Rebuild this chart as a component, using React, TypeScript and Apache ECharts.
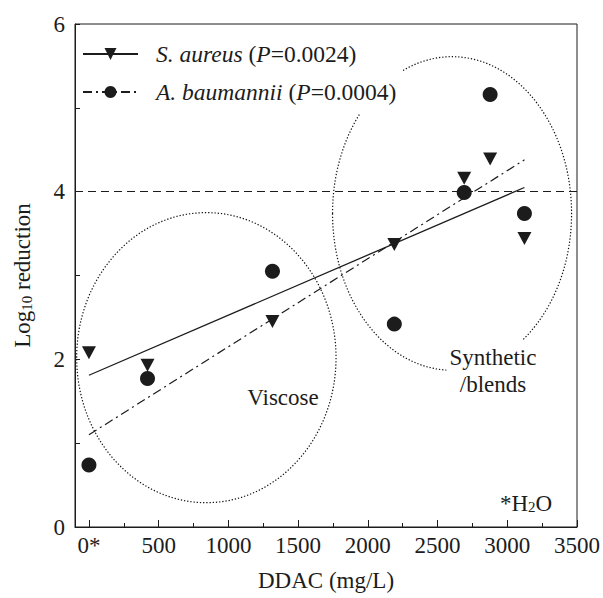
import React, { useEffect, useRef } from "react";
import * as echarts from "echarts";

// ---- data ----
const ddacX = [0, 420, 1316, 2190, 2691, 2877, 3123];
const sAureusY = [2.08, 1.93, 2.45, 3.37, 4.16, 4.39, 3.44];
const aBaumanniiY = [0.74, 1.77, 3.05, 2.42, 3.99, 5.16, 3.74];
// regression line endpoints
const sAureusFit = [
  [0, 1.81],
  [3123, 4.05],
];
const aBaumanniiFit = [
  [0, 1.1],
  [3123, 4.38],
];
const threshold = 4;
// ellipses: [centerX, centerY, radiusX, radiusY] in data units
const groupEllipses = [
  [842, 2.02, 930, 1.73],
  [2604, 3.74, 857, 1.87],
];
const xMajorTicks = [0, 500, 1000, 1500, 2000, 2500, 3000, 3500];
const xMinorTicks = [250, 750, 1250, 1750, 2250, 2750, 3250];
const seriesNames = ["S. aureus", "A. baumannii"];
const pValues = ["0.0024", "0.0004"];

const FONT = "Liberation Serif, Times New Roman, serif";
const INK = "#1c1c1c";
const TRI = "path://M0,0 L14,0 L7,13 Z";
const FS = 23;

export default function App() {
  const ref = useRef<HTMLDivElement>(null);

  useEffect(() => {
    if (!ref.current) return;
    const chart = echarts.init(ref.current, null, { renderer: "svg" });

    const pts = (ys: number[]) => ddacX.map((x, i) => [x, ys[i]]);

    const option: any = {
      animation: false,
      backgroundColor: "#fff",
      textStyle: { fontFamily: FONT, color: INK },
      grid: {
        left: 75,
        top: 24,
        right: 26,
        bottom: 71,
        show: true,
        borderColor: INK,
        borderWidth: 1,
        backgroundColor: "transparent",
      },
      legend: {
        data: seriesNames,
        orient: "vertical",
        left: 80,
        top: 26,
        padding: [16, 6, 10, 2],
        itemGap: 14,
        itemWidth: 55,
        itemHeight: 15,
        backgroundColor: "#fff",
        z: 6,
        selectedMode: false,
        formatter: (name: string) => {
          const i = seriesNames.indexOf(name);
          return `{g|}{i|${name}} ({i|P}=${pValues[i]})`;
        },
        textStyle: {
          fontFamily: FONT,
          fontSize: 23.5,
          color: INK,
          lineHeight: 23,
          rich: {
            g: { width: 13, fontSize: 23.5, lineHeight: 23 },
            i: { fontStyle: "italic", fontFamily: FONT, fontSize: 23.5, lineHeight: 23, color: INK },
          },
        },
      },
      xAxis: [
        {
          type: "value",
          min: -100,
          max: 3500,
          name: "DDAC (mg/L)",
          nameLocation: "middle",
          nameGap: 42,
          nameTextStyle: { fontFamily: FONT, fontSize: FS, color: INK },
          axisLine: { show: true, onZero: false, lineStyle: { color: INK, width: 1 } },
          axisTick: {
            show: true,
            inside: true,
            length: 7,
            customValues: xMajorTicks,
            lineStyle: { color: INK },
          },
          axisLabel: {
            show: true,
            customValues: xMajorTicks,
            margin: 7,
            fontFamily: FONT,
            fontSize: FS,
            color: INK,
            formatter: (v: number) => (v === 0 ? "0*" : String(v)),
          },
          splitLine: { show: false },
        },
        {
          type: "value",
          min: -100,
          max: 3500,
          position: "bottom",
          axisLine: { show: false, onZero: false },
          axisTick: {
            show: true,
            inside: true,
            length: 4,
            customValues: xMinorTicks,
            lineStyle: { color: INK },
          },
          axisLabel: { show: false },
          splitLine: { show: false },
        },
      ],
      yAxis: {
        type: "value",
        min: 0,
        max: 6,
        interval: 1,
        name: "Log{sub|10} reduction",
        nameLocation: "middle",
        nameGap: 41,
        nameTextStyle: {
          fontFamily: FONT,
          fontSize: FS,
          color: INK,
          lineHeight: 23,
          rich: {
            sub: { fontFamily: FONT, fontSize: 15, lineHeight: 14, verticalAlign: "bottom", color: INK },
          },
        },
        axisLine: { show: true, onZero: false, lineStyle: { color: INK, width: 1 } },
        axisTick: { show: true, inside: true, length: 5, lineStyle: { color: INK } },
        axisLabel: {
          margin: 10,
          fontFamily: FONT,
          fontSize: FS,
          color: INK,
          formatter: (v: number) => (v % 2 === 0 ? String(v) : ""),
        },
        splitLine: { show: false },
      },
      graphic: [
        {
          type: "text",
          x: 283,
          y: 397,
          z: 100,
          style: {
            text: "Viscose",
            fontFamily: FONT,
            fontSize: FS,
            fill: INK,
            align: "center",
            verticalAlign: "middle",
          },
        },
        {
          type: "text",
          x: 493,
          y: 371,
          z: 100,
          style: {
            text: "Synthetic\n/blends",
            fontFamily: FONT,
            fontSize: FS,
            lineHeight: 27,
            fill: INK,
            align: "center",
            verticalAlign: "middle",
            backgroundColor: "#fff",
            padding: [6, 3, 2, 3],
          },
        },
        {
          type: "text",
          x: 526,
          y: 503,
          z: 100,
          style: {
            text: "*H{sub|2}O",
            fontFamily: FONT,
            fontSize: FS,
            lineHeight: 23,
            fill: INK,
            align: "center",
            verticalAlign: "middle",
            rich: {
              sub: { fontFamily: FONT, fontSize: 15, lineHeight: 14, verticalAlign: "bottom", fill: INK },
            },
          },
        },
      ],
      series: [
        {
          name: seriesNames[0],
          type: "line",
          data: sAureusFit,
          showSymbol: false,
          symbol: TRI,
          symbolSize: [14, 13],
          color: INK,
          lineStyle: { color: INK, width: 1.3, type: "solid" },
          itemStyle: { color: INK },
          z: 3,
        },
        {
          name: seriesNames[1],
          type: "line",
          data: aBaumanniiFit,
          showSymbol: false,
          symbol: "circle",
          symbolSize: 15,
          color: INK,
          lineStyle: { color: INK, width: 1.2, type: [9, 4, 2, 4] },
          itemStyle: { color: INK },
          z: 3,
        },
        {
          name: seriesNames[0],
          type: "scatter",
          data: pts(sAureusY),
          symbol: TRI,
          symbolSize: [14, 13],
          itemStyle: { color: INK, opacity: 1 },
          z: 4,
        },
        {
          name: seriesNames[1],
          type: "scatter",
          data: pts(aBaumanniiY),
          symbol: "circle",
          symbolSize: 15,
          itemStyle: { color: INK, opacity: 1 },
          z: 4,
          markLine: {
            silent: true,
            symbol: ["none", "none"],
            label: { show: false },
            lineStyle: { color: INK, width: 1, type: [8, 5] },
            data: [{ yAxis: threshold }],
          },
        },
        {
          type: "custom",
          data: groupEllipses,
          silent: true,
          z: 2,
          renderItem: (params: any, api: any) => {
            const c = api.coord([api.value(0), api.value(1)]);
            const s = api.size([api.value(2), api.value(3)]);
            return {
              type: "ellipse",
              shape: { cx: c[0], cy: c[1], rx: s[0], ry: s[1] },
              style: { fill: "none", stroke: "#111", lineWidth: 1.2, lineDash: [1.3, 1.9] },
            };
          },
        },
      ],
    };

    chart.setOption(option);
    return () => chart.dispose();
  }, []);

  return (
    <div
      ref={ref}
      style={{ position: "absolute", left: 0, top: 0, width: 603, height: 598 }}
    />
  );
}
